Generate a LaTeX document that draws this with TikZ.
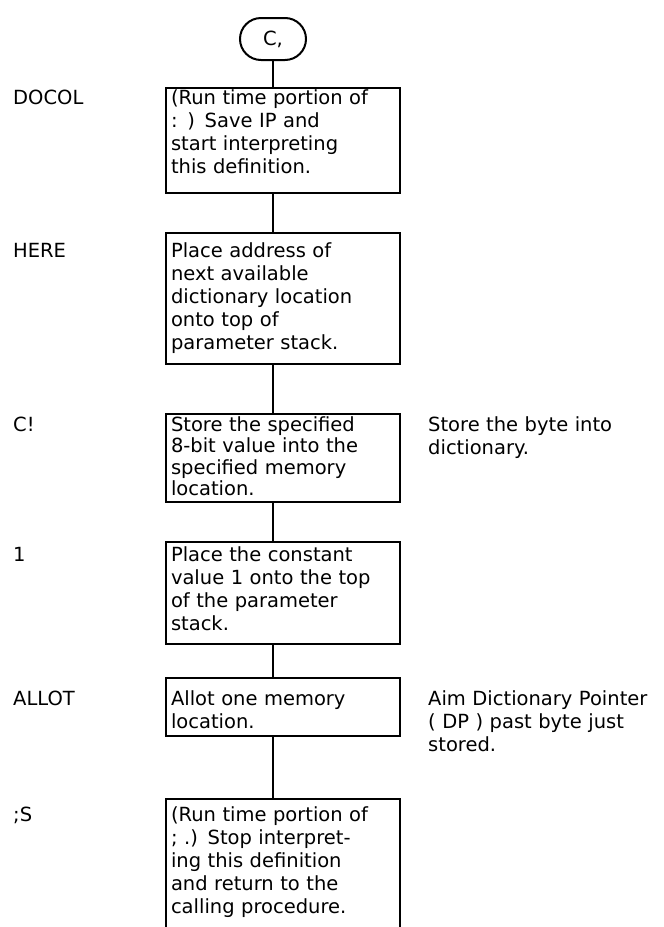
\documentclass[tikz,border=0pt]{standalone}
\usepackage{fontspec}
\setmainfont{DejaVu Sans}
\usetikzlibrary{positioning,shapes.misc}

\begin{document}
\begin{tikzpicture}[
    x=1pt, y=1pt,
    every node/.style={font=\fontsize{19.5}{23}\selectfont},
    term/.style={rounded rectangle, draw, line width=2pt, minimum width=70pt, minimum height=42pt, inner sep=2pt},
    stepbox/.style={rectangle, draw, line width=2pt, text width=224pt, inner xsep=5pt, inner ysep=2pt, align=left},
    tag/.style={anchor=base west, inner sep=0pt},
    note/.style={anchor=base west, inner sep=0pt, text width=236pt, align=left},
    link/.style={line width=2pt}
  ]
  \useasboundingbox (0,0) rectangle (664,-927);

  % Entry
  \node[term] (ccomma) at (273,-39) {C,};

  % Steps
  \node[stepbox, text height=15.2pt, text depth=85.8pt, below=25.5pt of ccomma, xshift=10pt] (docol)
    {(Run time portion of\\: ) Save IP and\\start interpreting\\this definition.};
  \node[stepbox, text height=22.2pt, text depth=104.8pt, below=38.5pt of docol] (here)
    {Place address of\\next available\\dictionary location\\onto top of\\parameter stack.};
  \node[stepbox, font=\fontsize{19.5}{21.5}\selectfont, text height=15.5pt, text depth=69pt, below=47.5pt of here] (cstore)
    {Store the specified\\8-bit value into the\\specified memory\\location.};
  \node[stepbox, text height=18.2pt, text depth=79.8pt, below=37.5pt of cstore] (one)
    {Place the constant\\value 1 onto the top\\of the parameter\\stack.};
  \node[stepbox, text height=26.2pt, text depth=27.8pt, below=32pt of one] (allot)
    {Allot one memory\\location.};
  \node[stepbox, text height=20.2pt, text depth=108.8pt, below=61.5pt of allot] (semis)
    {(Run time portion of\\; .) Stop interpret-\\ing this definition\\and return to the\\calling procedure.};

  % Word names
  \coordinate (lft) at (13,0);
  \node[tag] (tdocol) at (lft |- docol.base) {DOCOL};
  \node[tag] (there) at (lft |- here.base) {HERE};
  \node[tag] (tcstore) at (lft |- cstore.base) {C!};
  \node[tag] (tone) at (lft |- one.base) {1};
  \node[tag] (tallot) at (lft |- allot.base) {ALLOT};
  \node[tag] (tsemis) at (lft |- semis.base) {;S};

  % Comments
  \coordinate (rgt) at (428,0);
  \node[note] (nstore) at (rgt |- cstore.base) {Store the byte into\\dictionary.};
  \node[note] (nallot) at (rgt |- allot.base) {Aim Dictionary Pointer\\( DP ) past byte just\\stored.};

  % Flow
  \draw[link] (ccomma.south) -- (ccomma |- docol.north);
  \draw[link] (ccomma |- docol.south) -- (ccomma |- here.north);
  \draw[link] (ccomma |- here.south) -- (ccomma |- cstore.north);
  \draw[link] (ccomma |- cstore.south) -- (ccomma |- one.north);
  \draw[link] (ccomma |- one.south) -- (ccomma |- allot.north);
  \draw[link] (ccomma |- allot.south) -- (ccomma |- semis.north);
\end{tikzpicture}
\end{document}
